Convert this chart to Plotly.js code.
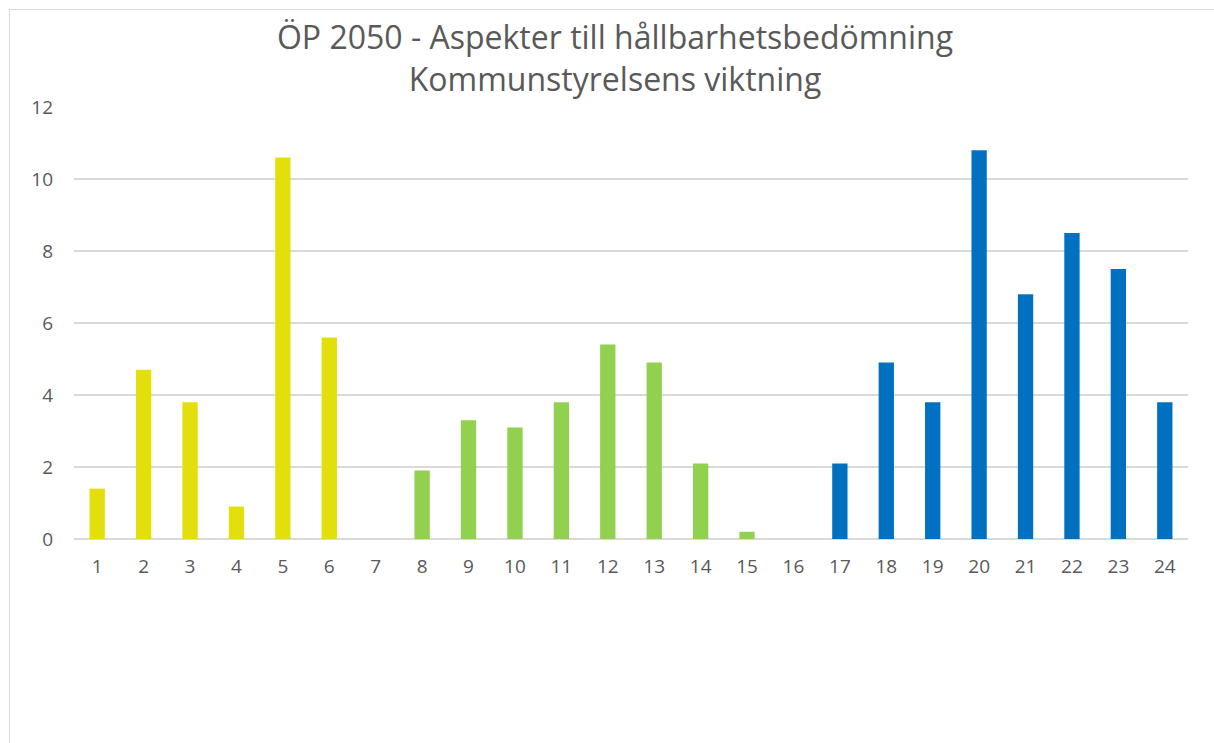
<!DOCTYPE html>
<html>
<head>
<meta charset="utf-8">
<script src="https://cdn.plot.ly/plotly-3.0.1.min.js"></script>
<style>
  body { margin: 0; background: #fff; }
  #chart { position: absolute; left: 9px; top: 9px; width: 1210px; height: 740px;
           border: 1px solid #d9d9d9; box-sizing: border-box; }
</style>
</head>
<body>
<div id="chart"></div>
<script>
// aspect number 1..24 and the board's weighting
const aspects = ['1','2','3','4','5','6','7','8','9','10','11','12','13','14','15','16','17','18','19','20','21','22','23','24'];
const weights = [1.4, 4.7, 3.8, 0.9, 10.6, 5.6, 0, 1.9, 3.3, 3.1, 3.8, 5.4, 4.9, 2.1, 0.2, 0, 2.1, 4.9, 3.8, 10.8, 6.8, 8.5, 7.5, 3.8];
// three groups of aspects, one colour each
const groupOf = [0,0,0,0,0,0,0, 1,1,1,1,1,1,1,1,1, 2,2,2,2,2,2,2,2];
const groupColors = ['#E3DF0B', '#92D050', '#0070C0'];
const yTicks = [0, 2, 4, 6, 8, 10, 12];

const trace = {
    type: 'bar',
    x: aspects,
    y: weights,
    width: 0.33,
    marker: { color: groupOf.map(g => groupColors[g]) },
    hoverinfo: 'x+y'
};

const layout = {
    width: 1210, height: 740,
    margin: { l: 64, r: 32, t: 97, b: 211 },
    paper_bgcolor: '#fff', plot_bgcolor: '#fff',
    font: { family: 'Open Sans, sans-serif', color: '#595959', size: 18 },
    title: {
        text: 'ÖP 2050 - Aspekter till hållbarhetsbedömning<br>Kommunstyrelsens viktning',
        font: { size: 32, color: '#595959' },
        x: 0.5, xanchor: 'center', y: 0.947, yanchor: 'middle'
    },
    xaxis: {
        type: 'category',
        showgrid: false, zeroline: false, showline: false,
        ticks: '', ticklabelstandoff: 14,
        tickfont: { size: 19 }
    },
    yaxis: {
        range: [0, 12],
        tickvals: yTicks,
        showgrid: true, gridcolor: '#d9d9d9', gridwidth: 1.5,
        zeroline: true, zerolinecolor: '#d9d9d9', zerolinewidth: 2,
        showline: false, ticks: '', ticklabelstandoff: 20,
        tickfont: { size: 19 }
    },
    bargap: 0.67,
    showlegend: false
};

Plotly.newPlot('chart', [trace], layout, { displayModeBar: false, staticPlot: true });
</script>
</body>
</html>
